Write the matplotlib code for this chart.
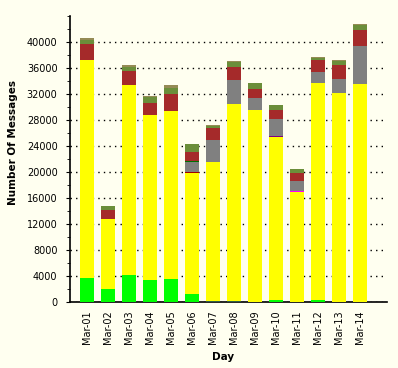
import numpy as np
import matplotlib
matplotlib.use("Agg")
from matplotlib import pyplot as plt
from matplotlib.ticker import MultipleLocator

days = ['Mar-01', 'Mar-02', 'Mar-03', 'Mar-04', 'Mar-05', 'Mar-06', 'Mar-07',
        'Mar-08', 'Mar-09', 'Mar-10', 'Mar-11', 'Mar-12', 'Mar-13', 'Mar-14']
yticks = [0, 4000, 8000, 12000, 16000, 20000, 24000, 28000, 32000, 36000, 40000]

# stacked series, bottom to top
base_teal = [80, 80, 80, 80, 80, 80, 0, 0, 80, 80, 80, 80, 80, 80]
base_dark = [0, 0, 0, 0, 0, 0, 200, 200, 0, 0, 0, 0, 0, 0]
green = [3620, 1920, 4120, 3350, 3460, 1200, 0, 0, 0, 270, 0, 270, 0, 0]
yellow = [33500, 10770, 29180, 25340, 25840, 18570, 21340, 30260, 29460, 25030, 16840, 33340, 32070, 33460]
dark_red_line = [0, 0, 0, 0, 0, 150, 0, 0, 0, 0, 0, 0, 0, 0]
purple_line = [0, 0, 0, 0, 0, 0, 0, 0, 0, 160, 0, 0, 0, 0]
magenta_line = [0, 0, 0, 0, 0, 0, 0, 0, 0, 0, 160, 0, 0, 0]
gray = [0, 0, 0, 0, 0, 1540, 3380, 3690, 1840, 2610, 1540, 1690, 2160, 5840]
dark_green_line = [0, 0, 0, 0, 0, 150, 0, 0, 0, 0, 0, 0, 0, 0]
red = [2500, 1380, 2160, 1850, 2620, 1390, 1850, 2000, 1390, 1390, 1230, 1850, 2150, 2470]
olive = [700, 620, 660, 1000, 970, 1230, 300, 770, 920, 770, 610, 310, 620, 770]
tan = [200, 0, 260, 80, 410, 0, 160, 160, 0, 0, 0, 150, 150, 150]

layers = [
    (base_teal, '#30C0A0'),
    (base_dark, '#2F5F3F'),
    (green, '#00FF00'),
    (yellow, '#FFFF00'),
    (dark_red_line, '#A00000'),
    (purple_line, '#800080'),
    (magenta_line, '#FF00FF'),
    (gray, '#808080'),
    (dark_green_line, '#007000'),
    (red, '#A52A2A'),
    (olive, '#6B8E3A'),
    (tan, '#958B55'),
]

bg = '#FFFFF0'
fig = plt.figure(figsize=(3.98, 3.68), dpi=100, facecolor=bg)
ax = fig.add_axes([0.176, 0.179, 0.796, 0.777])
ax.set_facecolor(bg)

x = np.arange(len(days))
bottom = np.zeros(len(days))
for vals, col in layers:
    v = np.array(vals, dtype=float)
    ax.bar(x, v, width=0.67, bottom=bottom, color=col, linewidth=0, zorder=3)
    bottom += v

ax.set_xlim(-0.81, 13.0 + 1.29)
ax.set_ylim(0, 44000)
ax.set_yticks(yticks)
ax.set_yticklabels([str(t) for t in yticks])
ax.yaxis.set_minor_locator(MultipleLocator(2000))
ax.grid(axis='y', which='major', color='black', linestyle=(0, (1, 3)), linewidth=1.0, zorder=1)

ax.set_xticks(x)
ax.set_xticklabels(days, rotation=90, fontsize=7)
ax.tick_params(axis='y', labelsize=7, length=3, pad=6)
ax.tick_params(axis='y', which='minor', length=2)
ax.tick_params(axis='x', length=0, pad=6)

for s in ['top', 'right']:
    ax.spines[s].set_visible(False)
ax.spines['left'].set_linewidth(1.2)
ax.spines['bottom'].set_linewidth(1.2)

ax.set_ylabel('Number Of Messages', fontsize=7.5, fontweight='bold')
ax.yaxis.set_label_coords(-0.164, 0.56)
ax.set_xlabel('Day', fontsize=7.5, fontweight='bold')
ax.xaxis.set_label_coords(0.483, -0.175)

fig.savefig('out.png', dpi=100, facecolor=bg)
